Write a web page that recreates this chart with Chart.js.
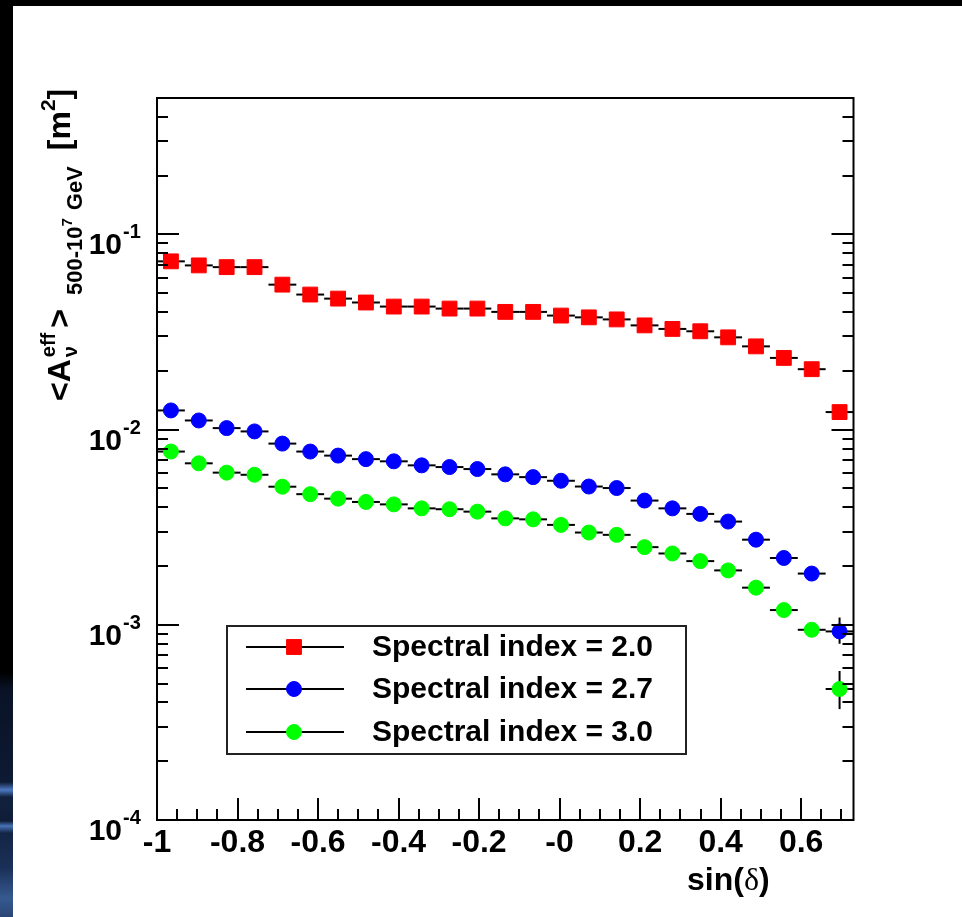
<!DOCTYPE html>
<html>
<head>
<meta charset="utf-8">
<title>Effective area vs declination</title>
<script src="https://cdn.jsdelivr.net/npm/chart.js@4.4.1/dist/chart.umd.min.js"></script>
<style>
  html, body { margin: 0; padding: 0; background: #000; }
  body { width: 962px; height: 917px; position: relative; overflow: hidden; }
  #strip {
    position: absolute; left: 0; top: 0; width: 13px; height: 917px;
    background: linear-gradient(to bottom, #000 0, #000 672px, #0a1326 690px, #0d1a33 782px,
      #4d79c2 790px, #11213d 797px, #0f1d37 821px, #4873ba 826px, #132545 833px,
      #1a3058 868px, #36598f 898px, #2a4676 917px);
  }
  #panel { position: absolute; left: 13px; top: 6px; width: 949px; height: 911px; background: #fff; }
  #panel canvas { display: block; }
</style>
</head>
<body>
<div id="strip"></div>
<div id="panel"><canvas id="area-chart" width="949" height="911"></canvas></div>
<script>
// sin(declination) bin centres, 25 bins from -1 to 0.73
var binCenters = [-0.9654, -0.8962, -0.8270, -0.7578, -0.6886, -0.6194, -0.5502, -0.4810,
  -0.4118, -0.3426, -0.2734, -0.2042, -0.1350, -0.0658, 0.0034, 0.0726, 0.1418, 0.2110,
  0.2802, 0.3494, 0.4186, 0.4878, 0.5570, 0.6262, 0.6954];
var binHalfWidth = 0.0346;

// averaged effective area [m^2] for each spectral index
var index20 = [0.0728, 0.0694, 0.0680, 0.0680, 0.0553, 0.0492, 0.0469, 0.0448, 0.0427, 0.0427,
  0.0417, 0.0417, 0.0401, 0.0401, 0.0384, 0.0376, 0.0367, 0.0342, 0.0328, 0.0319,
  0.0297, 0.0267, 0.0233, 0.0204, 0.0123];
var index27 = [0.01254, 0.01114, 0.01018, 0.00979, 0.00848, 0.00772, 0.00736, 0.00706, 0.00688,
  0.00656, 0.00643, 0.00628, 0.00590, 0.00571, 0.00547, 0.00511, 0.00502, 0.00433, 0.00395,
  0.00370, 0.00338, 0.00273, 0.00220, 0.00183, 0.000925];
var index30 = [0.00772, 0.00672, 0.00602, 0.00587, 0.00510, 0.00467, 0.00443, 0.00426, 0.00414,
  0.00395, 0.00391, 0.00380, 0.00351, 0.00347, 0.00325, 0.00297, 0.00289, 0.00250, 0.00232,
  0.00212, 0.00190, 0.00155, 0.00119, 0.000943, 0.000469];

// vertical error bars (low, high) where they show outside the marker
var errors27 = { 24: [0.00080, 0.00109] };
var errors30 = { 24: [0.00037, 0.00058] };

var seriesLabels = ['Spectral index = 2.0', 'Spectral index = 2.7', 'Spectral index = 3.0'];

var xTickValues = [-1, -0.8, -0.6, -0.4, -0.2, 0, 0.2, 0.4, 0.6];
var xTickLabels = ['-1', '-0.8', '-0.6', '-0.4', '-0.2', '-0', '0.2', '0.4', '0.6'];
var yTickExponents = [-1, -2, -3, -4];

var FONT = '"Liberation Sans", Arial, Helvetica, sans-serif';

var toPoints = function (values) {
  return values.map(function (v, i) { return { x: binCenters[i], y: v }; });
};

var errorBars = {
  id: 'errorBars',
  beforeDatasetsDraw: function (chart) {
    var ctx = chart.ctx, xs = chart.scales.x, ys = chart.scales.y;
    ctx.save();
    ctx.strokeStyle = '#000';
    ctx.lineWidth = 2;
    chart.data.datasets.forEach(function (ds) {
      ds.data.forEach(function (p, i) {
        var px = xs.getPixelForValue(p.x), py = ys.getPixelForValue(p.y);
        ctx.beginPath();
        ctx.moveTo(xs.getPixelForValue(p.x - binHalfWidth), py);
        ctx.lineTo(xs.getPixelForValue(p.x + binHalfWidth), py);
        ctx.stroke();
        var err = ds.yErrors && ds.yErrors[i];
        if (err) {
          ctx.beginPath();
          ctx.moveTo(px, ys.getPixelForValue(err[0]));
          ctx.lineTo(px, ys.getPixelForValue(err[1]));
          ctx.stroke();
        }
      });
    });
    ctx.restore();
  }
};

// frame with inward ticks, tick labels, axis titles and the boxed legend
var frame = {
  id: 'frame',
  afterDraw: function (chart) {
    var ctx = chart.ctx, a = chart.chartArea, xs = chart.scales.x, ys = chart.scales.y;
    ctx.save();
    ctx.strokeStyle = '#000';
    ctx.lineWidth = 2;
    ctx.strokeRect(a.left, a.top, a.right - a.left, a.bottom - a.top);

    // y ticks on both sides
    for (var e = -4; e <= -1; e++) {
      for (var m = 1; m <= 9; m++) {
        var v = m * Math.pow(10, e);
        if (v > ys.max) break;
        var py = Math.round(ys.getPixelForValue(v));
        var len = m === 1 ? 22 : 11;
        ctx.beginPath();
        ctx.moveTo(a.left, py); ctx.lineTo(a.left + len, py);
        ctx.moveTo(a.right, py); ctx.lineTo(a.right - len, py);
        ctx.stroke();
      }
    }
    // x ticks along the bottom
    for (var k = 0; k * 0.05 - 1 <= xs.max + 1e-9; k++) {
      var xv = -1 + k * 0.05;
      var px = Math.round(xs.getPixelForValue(xv));
      var xl = k % 4 === 0 ? 22 : 11;
      ctx.beginPath();
      ctx.moveTo(px, a.bottom); ctx.lineTo(px, a.bottom - xl);
      ctx.stroke();
    }

    ctx.fillStyle = '#000';
    ctx.textBaseline = 'alphabetic';
    // x tick labels
    ctx.textAlign = 'center';
    ctx.font = 'bold 32px ' + FONT;
    xTickValues.forEach(function (v, i) {
      ctx.fillText(xTickLabels[i], xs.getPixelForValue(v), a.bottom + 32);
    });
    // y tick labels as 10^n
    yTickExponents.forEach(function (n) {
      var py = ys.getPixelForValue(Math.pow(10, n));
      ctx.textAlign = 'right';
      ctx.font = 'bold 30px ' + FONT;
      ctx.fillText('10', a.left - 35, py + 20);
      ctx.textAlign = 'left';
      ctx.font = 'bold 20px ' + FONT;
      ctx.fillText(String(n), a.left - 34, py + 4);
    });

    // x title
    ctx.textAlign = 'left';
    var tx = 674, ty = a.bottom + 70;
    ctx.font = 'bold 32px ' + FONT;
    ctx.fillText('sin(', tx, ty);
    tx += ctx.measureText('sin(').width;
    ctx.font = '32px "Liberation Serif", "Times New Roman", serif';
    ctx.fillText('\u03b4', tx, ty);
    tx += ctx.measureText('\u03b4').width;
    ctx.font = 'bold 32px ' + FONT;
    ctx.fillText(')', tx, ty);

    // y title, reading upwards
    ctx.save();
    ctx.translate(57, 395);
    ctx.rotate(-Math.PI / 2);
    var u = 0;
    var put = function (text, size, shift) {
      ctx.font = 'bold ' + size + 'px ' + FONT;
      ctx.fillText(text, u, shift);
      return ctx.measureText(text).width;
    };
    u += put('<A', 32, 0) + 2;
    var g = u;
    var w1 = put('\u03bd', 20, 7);
    var w2 = put('eff', 20, -15);
    u = g + Math.max(w1, w2) + 5;
    u += put('>', 32, 0) + 14;
    u += put('500-10', 22, 12);
    u += put('7', 15, 2) + 8;
    u += put('GeV', 22, 12) + 16;
    u += put('[m', 32, 0);
    u += put('2', 21, -15);
    put(']', 32, 0);
    ctx.restore();

    // legend
    var box = { left: 214, top: 620, right: 673, bottom: 748 };
    ctx.lineWidth = 2;
    ctx.strokeStyle = '#222';
    ctx.strokeRect(box.left, box.top, box.right - box.left, box.bottom - box.top);
    var rows = [641, 683, 726];
    chart.data.datasets.forEach(function (ds, i) {
      var y = rows[i];
      ctx.strokeStyle = '#000';
      ctx.lineWidth = 2;
      ctx.beginPath();
      ctx.moveTo(233, y); ctx.lineTo(331, y);
      ctx.stroke();
      ctx.fillStyle = ds.backgroundColor;
      ctx.strokeStyle = ds.borderColor;
      ctx.lineWidth = 1;
      Chart.helpers.drawPoint(ctx, { pointStyle: ds.pointStyle, radius: ds.pointRadius, rotation: 0, borderWidth: 1 }, 281, y);
      ctx.fillStyle = '#000';
      ctx.font = 'bold 30px ' + FONT;
      ctx.textAlign = 'left';
      ctx.textBaseline = 'middle';
      ctx.fillText(ds.label, 359, y + 1);
    });
    ctx.restore();
  }
};

var makeSeries = function (label, values, color, style, radius, errs) {
  return {
    label: label,
    data: toPoints(values),
    yErrors: errs,
    showLine: false,
    pointStyle: style,
    pointRadius: radius,
    pointHoverRadius: radius,
    backgroundColor: color,
    borderColor: color,
    borderWidth: 1
  };
};

var ctx = document.getElementById('area-chart').getContext('2d');
var chart = new Chart(ctx, {
  type: 'scatter',
  data: {
    datasets: [
      makeSeries(seriesLabels[0], index20, '#ff0000', 'rect', 10.5, null),
      makeSeries(seriesLabels[1], index27, '#0000ff', 'circle', 7.5, errors27),
      makeSeries(seriesLabels[2], index30, '#00ff00', 'circle', 7.5, errors30)
    ]
  },
  options: {
    responsive: false,
    animation: false,
    layout: { padding: { left: 144, top: 92, right: 108.5, bottom: 97 } },
    scales: {
      x: { type: 'linear', min: -1, max: 0.73, display: false },
      y: { type: 'logarithmic', min: 1e-4, max: 0.5, display: false }
    },
    plugins: {
      legend: { display: false },
      tooltip: { enabled: false }
    }
  },
  plugins: [errorBars, frame]
});
</script>
</body>
</html>
